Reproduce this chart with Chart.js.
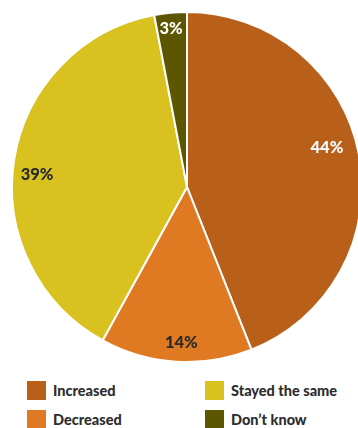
<!DOCTYPE html>
<html>
<head>
<meta charset="utf-8">
<script src="https://cdn.jsdelivr.net/npm/chart.js@4/dist/chart.umd.min.js"></script>
<style>
  html, body { margin: 0; padding: 0; background: #fff; overflow: hidden; width: 358px; height: 428px; }
  #wrap { position: absolute; left: 0; top: 0; width: 374px; height: 374px; }
  #legend {
    position: absolute; left: 27px; top: 381px;
    display: grid; grid-template-columns: 178px 160px; row-gap: 10px;
    font-family: Lato, sans-serif; font-weight: 900; font-size: 14.5px; color: #2e2e2e;
  }
  .item { display: flex; align-items: center; height: 19px; }
  .sw { width: 19px; height: 19px; margin-right: 7px; }
</style>
</head>
<body>
<div id="wrap"><canvas id="pie"></canvas></div>
<div id="legend"></div>
<script>
// Categorías y porcentajes
const categories = ['Increased', 'Decreased', 'Stayed the same', "Don\u2019t know"];
const percentages = [44, 14, 39, 3];
const sliceColors = ['#b8601a', '#e07a22', '#d9c21f', '#5c5600'];
const labelColors = ['#ffffff', '#2a2a2a', '#2a2a2a', '#ffffff'];
// Distancia de cada etiqueta al centro (fracción del radio)
const labelRadius = [0.83, 0.89, 0.86, 0.91];
// Orden de la leyenda: dos columnas
const legendOrder = [0, 2, 1, 3];

// Etiquetas de porcentaje dentro de cada sector
const sliceLabels = {
    id: 'sliceLabels',
    afterDatasetsDraw(chart) {
        const ctx = chart.ctx;
        const arcs = chart.getDatasetMeta(0).data;
        ctx.save();
        ctx.font = '900 16.5px Lato, sans-serif';
        ctx.textAlign = 'center';
        ctx.textBaseline = 'middle';
        arcs.forEach((arc, i) => {
            const a = arc.startAngle + (arc.endAngle - arc.startAngle) * 0.47;
            const r = arc.outerRadius * labelRadius[i];
            ctx.fillStyle = labelColors[i];
            ctx.fillText(percentages[i] + '%', arc.x + Math.cos(a) * r, arc.y + Math.sin(a) * r);
        });
        ctx.restore();
    }
};

const ctx = document.getElementById('pie').getContext('2d');
const pieChart = new Chart(ctx, {
    type: 'pie',
    data: {
        labels: categories,
        datasets: [{
            data: percentages,
            backgroundColor: sliceColors,
            borderColor: '#ffffff',
            borderWidth: 2,
            hoverOffset: 0
        }]
    },
    options: {
        responsive: true,
        maintainAspectRatio: false,
        animation: false,
        layout: { padding: 11 },
        plugins: {
            legend: { display: false },
            tooltip: { enabled: false }
        }
    },
    plugins: [sliceLabels]
});

// Leyenda en HTML
const legend = document.getElementById('legend');
legend.innerHTML = legendOrder.map(i => `
    <div class="item"><span class="sw" style="background:${sliceColors[i]}"></span>${categories[i]}</div>
`).join('');
</script>
</body>
</html>
